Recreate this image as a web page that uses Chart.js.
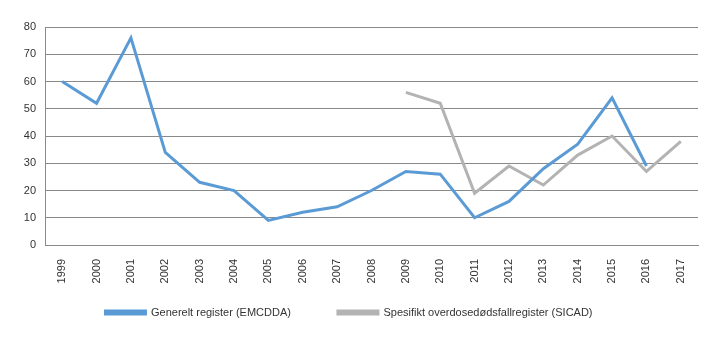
<!DOCTYPE html>
<html>
<head>
<meta charset="utf-8">
<script src="https://cdn.jsdelivr.net/npm/chart.js@4"></script>
<style>
  html, body { margin: 0; padding: 0; background: #fff; }
  #wrap { width: 719px; height: 341px; }
</style>
</head>
<body>
<div id="wrap"><canvas id="overdoseChart"></canvas></div>
<script>
const years = ["1999", "2000", "2001", "2002", "2003", "2004", "2005", "2006", "2007", "2008",
  "2009", "2010", "2011", "2012", "2013", "2014", "2015", "2016", "2017"];
const generelt = [60, 52, 76, 34, 23, 20, 9, 12, 14, 20, 27, 26, 10, 16, 28, 37, 54, 29, null];
const spesifikt = [null, null, null, null, null, null, null, null, null, null,
  56, 52, 19, 29, 22, 33, 40, 27, 38];
const yTicks = [0, 10, 20, 30, 40, 50, 60, 70, 80];

const FONT = "'Liberation Sans', Arial, sans-serif";

// the x axis is squeezed so the legend can sit close to the plot;
// give the rotated year labels their full height back so they aren't clipped
const labelRoom = {
  id: "labelRoom",
  afterLayout(chart) {
    const x = chart.scales.x;
    x.bottom = x.top + 45;
    x.height = 45;
  }
};

let overdoseChart;

function initChart() {
  const ctx = document.getElementById("overdoseChart").getContext("2d");
  overdoseChart = new Chart(ctx, {
    type: "line",
    data: {
      labels: years,
      datasets: [{
        label: "Generelt register (EMCDDA)",
        data: generelt,
        borderColor: "#5b9bd5",
        backgroundColor: "#5b9bd5",
        borderWidth: 3,
        pointRadius: 0,
        tension: 0
      }, {
        label: "Spesifikt overdosedødsfallregister (SICAD)",
        data: spesifikt,
        borderColor: "#b3b3b3",
        backgroundColor: "#b3b3b3",
        borderWidth: 3,
        pointRadius: 0,
        tension: 0
      }]
    },
    options: {
      responsive: true,
      maintainAspectRatio: false,
      animation: false,
      layout: {
        padding: { top: 27, right: 21, bottom: 13, left: 0 }
      },
      plugins: {
        legend: {
          position: "bottom",
          align: "center",
          labels: {
            boxWidth: 40,
            boxHeight: 3,
            padding: 47,
            color: "#333",
            font: { family: FONT, size: 11 }
          }
        },
        tooltip: { enabled: false }
      },
      scales: {
        x: {
          offset: true,
          afterFit: axis => {
            axis.height = 15;
          },
          grid: { display: false, drawTicks: false },
          border: { display: true, color: "#8a8a8a" },
          ticks: {
            minRotation: 90,
            maxRotation: 90,
            padding: 14,
            color: "#333",
            font: { family: FONT, size: 11 }
          }
        },
        y: {
          min: 0,
          max: 80,
          afterBuildTicks: axis => {
            axis.ticks = yTicks.map(v => ({ value: v }));
          },
          afterFit: axis => {
            axis.width = 45;
          },
          grid: { color: "#8a8a8a", drawTicks: false },
          border: { display: true, color: "#8a8a8a" },
          ticks: {
            padding: 9,
            color: "#333",
            font: { family: FONT, size: 11 }
          }
        }
      }
    },
    plugins: [labelRoom]
  });
}

window.onload = function () {
  initChart();
};
</script>
</body>
</html>
